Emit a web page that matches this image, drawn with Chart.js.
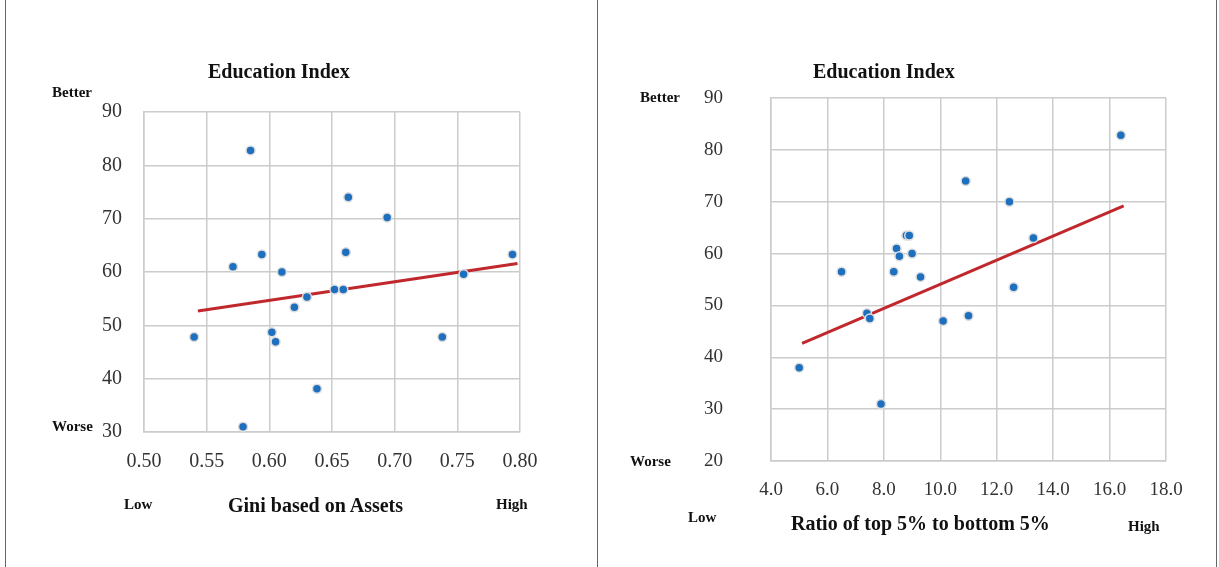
<!DOCTYPE html>
<html>
<head>
<meta charset="utf-8">
<script src="https://cdn.jsdelivr.net/npm/chart.js@4/dist/chart.umd.min.js"></script>
<style>
  body { margin: 0; background: #fff; font-family: "Liberation Serif", "DejaVu Serif", serif; }
  .panel { position: absolute; top: 0; height: 567px; }
  .lbl { position: absolute; font-weight: bold; color: #111; white-space: nowrap; }
  .sep { position: absolute; background: #666; width: 1px; top: 0; height: 567px; }
</style>
</head>
<body>
<div class="sep" style="left:5px"></div>
<div class="sep" style="left:597px"></div>
<div class="sep" style="left:1216px"></div>

<div class="panel" style="left:0;width:597px"><canvas id="left"></canvas></div>
<div class="panel" style="left:598px;width:618px"><canvas id="right"></canvas></div>

<div class="lbl" style="left:208px;top:60px;font-size:20px">Education Index</div>
<div class="lbl" style="left:52px;top:84px;font-size:15px">Better</div>
<div class="lbl" style="left:52px;top:418px;font-size:15px">Worse</div>
<div class="lbl" style="left:124px;top:496px;font-size:15px">Low</div>
<div class="lbl" style="left:228px;top:494px;font-size:20px">Gini based on Assets</div>
<div class="lbl" style="left:496px;top:496px;font-size:15px">High</div>

<div class="lbl" style="left:813px;top:60px;font-size:20px">Education Index</div>
<div class="lbl" style="left:640px;top:89px;font-size:15px">Better</div>
<div class="lbl" style="left:630px;top:453px;font-size:15px">Worse</div>
<div class="lbl" style="left:688px;top:509px;font-size:15px">Low</div>
<div class="lbl" style="left:791px;top:512px;font-size:20px">Ratio of top 5% to bottom 5%</div>
<div class="lbl" style="left:1128px;top:518px;font-size:15px">High</div>

<script>
// Gini based on assets vs education index
const giniX = [0.540, 0.571, 0.579, 0.585, 0.594, 0.602, 0.605, 0.610, 0.620, 0.630,
               0.638, 0.652, 0.659, 0.661, 0.663, 0.694, 0.738, 0.755, 0.794];
const giniY = [47.8, 61.0, 31.0, 82.8, 63.3, 48.7, 46.9, 60.0, 53.4, 55.3,
               38.1, 56.7, 56.7, 63.7, 74.0, 70.2, 47.8, 59.6, 63.3];
const giniTrendX = [0.543, 0.798];
const giniTrendY = [52.7, 61.6];

// Ratio of top 5% to bottom 5% vs education index
const ratioX = [5.0, 6.5, 7.4, 7.5, 7.9, 8.35, 8.45, 8.55, 8.8, 8.9,
                9.0, 9.3, 10.1, 10.9, 11.0, 12.45, 12.6, 13.3, 16.4];
const ratioY = [38.0, 56.5, 48.5, 47.5, 31.0, 56.5, 61.0, 59.5, 63.5, 63.5,
                60.0, 55.5, 47.0, 74.0, 48.0, 70.0, 53.5, 63.0, 82.8];
const ratioTrendX = [5.1, 16.5];
const ratioTrendY = [42.7, 69.2];

const pts = (xs, ys) => xs.map((x, i) => ({ x: x, y: ys[i] }));

function makeChart(id, opts) {
    new Chart(document.getElementById(id), {
        type: 'scatter',
        data: {
            datasets: [{
                data: pts(opts.trendX, opts.trendY),
                showLine: true,
                borderColor: '#c0282d',
                borderWidth: 3,
                pointRadius: 0,
                order: 2
            }, {
                data: pts(opts.xs, opts.ys),
                backgroundColor: '#1f6fbf',
                borderColor: '#dddddd',
                borderWidth: 1.5,
                pointRadius: 4.5,
                order: 1
            }]
        },
        options: {
            responsive: false,
            animation: false,
            devicePixelRatio: 1,
            layout: { padding: opts.padding },
            plugins: { legend: { display: false }, tooltip: { enabled: false } },
            scales: {
                x: {
                    type: 'linear', min: opts.xmin, max: opts.xmax,
                    ticks: {
                        stepSize: opts.xstep, color: '#333', padding: opts.xpad,
                        font: { family: 'Liberation Serif', size: opts.fs },
                        callback: v => v.toFixed(opts.xdec)
                    },
                    grid: { color: '#cccccc', lineWidth: 1.5, drawTicks: false },
                    border: { color: '#cccccc', width: 1.5 },
                    afterFit: s => { s.height = 50; }
                },
                y: {
                    min: opts.ymin, max: opts.ymax,
                    ticks: {
                        stepSize: 10, color: '#333', padding: opts.ypad,
                        font: { family: 'Liberation Serif', size: opts.fs }
                    },
                    grid: { color: '#cccccc', lineWidth: 1.5, drawTicks: false },
                    border: { color: '#cccccc', width: 1.5 },
                    afterFit: s => { s.width = opts.yw; }
                }
            }
        }
    });
}

const lc = document.getElementById('left');
lc.width = 597; lc.height = 567;
makeChart('left', {
    xs: giniX, ys: giniY, trendX: giniTrendX, trendY: giniTrendY,
    xmin: 0.5, xmax: 0.8, xstep: 0.05, xdec: 2, ymin: 30, ymax: 90, fs: 20,
    xpad: 18, ypad: 22,
    yw: 144, padding: { left: 0, top: 112, right: 77, bottom: 85 }
});

const rc = document.getElementById('right');
rc.width = 618; rc.height = 567;
makeChart('right', {
    xs: ratioX, ys: ratioY, trendX: ratioTrendX, trendY: ratioTrendY,
    xmin: 4, xmax: 18, xstep: 2, xdec: 1, ymin: 20, ymax: 90, fs: 19,
    xpad: 18, ypad: 48,
    yw: 173, padding: { left: 0, top: 98, right: 50, bottom: 56 }
});
</script>
</body>
</html>
